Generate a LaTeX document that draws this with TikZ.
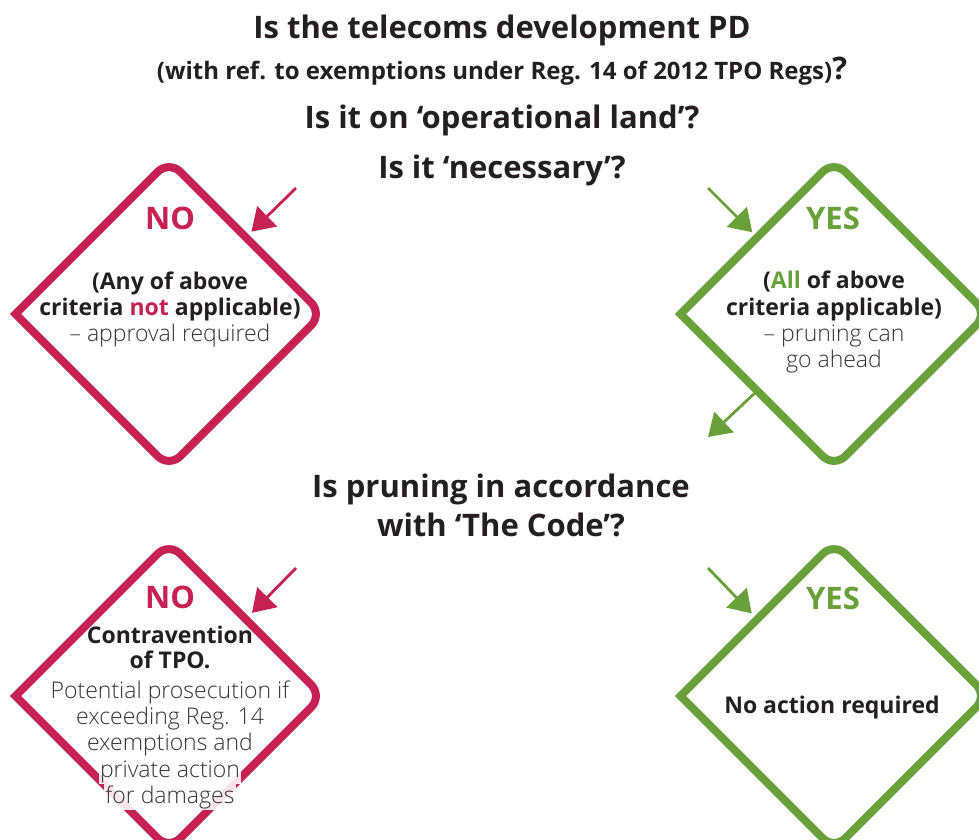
\documentclass[tikz,border=0pt]{standalone}
\usepackage{fontspec}
\setmainfont{Open Sans}
\IfFontExistsTF{Open Sans Light}
  {\newfontfamily\bodylight{Open Sans Light}}
  {\newfontfamily\bodylight{Open Sans}}
\usetikzlibrary{shapes.geometric,arrows.meta}

\definecolor{nored}{RGB}{199,33,83}
\definecolor{yesgreen}{RGB}{104,160,58}
\definecolor{ink}{RGB}{35,31,32}
\definecolor{softink}{RGB}{50,50,55}

\begin{document}
\begin{tikzpicture}[x=1pt,y=-1pt,
  frame/.style={shape=diamond, draw=none, minimum width=307pt, minimum height=307pt,
                inner sep=0pt, outer sep=0pt},
  outline/.style={line width=8pt, line join=miter},
  flowarrow/.style={line width=2.8pt, -{Triangle[length=22pt,width=28pt]}},
  txt/.style={anchor=base, inner sep=0pt, outer sep=0pt},
  heading/.style={txt, font=\bfseries\fontsize{31}{33}\selectfont, text=ink},
  subheading/.style={txt, font=\bfseries\fontsize{24}{26}\selectfont, text=ink},
  verdict/.style={txt, font=\bfseries\fontsize{31}{33}\selectfont},
  boldline/.style={txt, font=\bfseries\fontsize{23}{25}\selectfont, text=ink},
  plainline/.style={txt, font=\bodylight\fontsize{23}{25}\selectfont, text=softink},
  halo/.style={fill=white, fill opacity=0.88, text opacity=1, inner sep=1pt},
]
\useasboundingbox (0,0) rectangle (979,839);

% the four decision diamonds (anchors only; outlines drawn below)
\node[frame] (q1no)  at (169,314) {};
\node[frame] (q1yes) at (834,314) {};
\node[frame] (q2no)  at (169,696) {};
\node[frame] (q2yes) at (834,696) {};

% outlines: sharp left corner, rounded elsewhere
\foreach \d/\c in {q1no/nored, q1yes/yesgreen, q2no/nored, q2yes/yesgreen}{
  \draw[outline, draw=\c] (\d.north west) -- (\d.west) -- (\d.south west)
    [rounded corners=16pt] -- (\d.south) -- (\d.east) -- (\d.north) -- (\d.north west);
}

% questions
\node[heading] (title) at (502,38) {Is the telecoms development PD};
\node[subheading] (regs) at (502,79) {(with ref. to exemptions under Reg. 14 of 2012 TPO Regs)\fontsize{31}{33}\selectfont ?};
\node[heading] (oland) at (502,128) {Is it on ‘operational land’?};
\node[heading] (necessary) at (502,178) {Is it ‘necessary’?};
\node[heading] (code1) at (501,497) {Is pruning in accordance};
\node[heading] (code2) at (501,536) {with ‘The Code’?};

% arrows into and out of the diamonds
\coordinate (r1) at (296,188);
\coordinate (g1) at (708,188);
\coordinate (g2) at (708,437);
\coordinate (r2) at (296,568);
\coordinate (g3) at (708,568);
\draw[flowarrow, nored, shorten >=8pt] (r1) -- (q1no.north east);
\draw[flowarrow, yesgreen, shorten >=7pt] (g1) -- (q1yes.north west);
\draw[flowarrow, yesgreen, shorten <=2pt] (q1yes.south west) -- (g2);
\draw[flowarrow, nored, shorten >=9pt] (r2) -- (q2no.north east);
\draw[flowarrow, yesgreen, shorten >=8pt] (g3) -- (q2yes.north west);

% first decision: NO
\node[verdict, text=nored] (no1) at (170,229) {NO};
\node[boldline] (no1a) at (170,289) {(Any of above};
\node[boldline] (no1b) at (170,315) {criteria \textcolor{nored}{not} applicable)};
\node[plainline] (no1c) at (170,341) {– approval required};

% first decision: YES
\node[verdict, text=yesgreen] (yes1) at (833,229) {YES};
\node[boldline] (yes1a) at (834,288) {(\textcolor{yesgreen}{All} of above};
\node[boldline] (yes1b) at (834,315) {criteria applicable)};
\node[plainline] (yes1c) at (834,341) {– pruning can};
\node[plainline] (yes1d) at (834,367) {go ahead};

% second decision: NO
\node[verdict, text=nored] (no2) at (170,608) {NO};
\node[boldline] (no2a) at (170,643) {Contravention};
\node[boldline] (no2b) at (170,668) {of TPO.};
\node[plainline] (no2c) at (170,698) {Potential prosecution if};
\node[plainline] (no2d) at (170,724) {exceeding Reg. 14};
\node[plainline, halo] (no2e) at (170,750) {exemptions and};
\node[plainline, halo] (no2f) at (170,777) {private action};
\node[plainline, halo] (no2g) at (170,803) {for damages};

% second decision: YES
\node[verdict, text=yesgreen] (yes2) at (833,609) {YES};
\node[boldline] (yes2a) at (832,713) {No action required};
\end{tikzpicture}
\end{document}
